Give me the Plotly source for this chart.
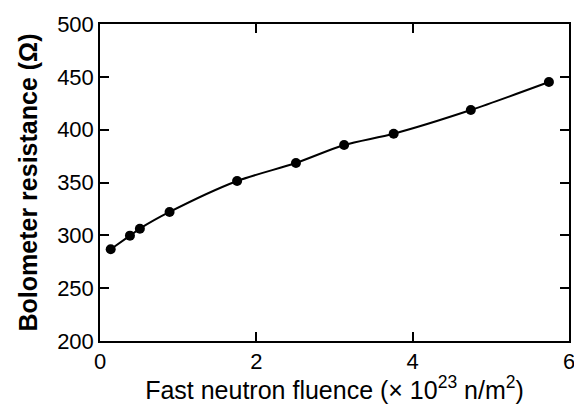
import plotly.graph_objects as go

fluence = [0.137, 0.383, 0.51, 0.89, 1.754, 2.507, 3.123, 3.757, 4.744, 5.743]
resistance = [286.8, 299.7, 306.3, 322.1, 351.4, 368.5, 385.5, 396.2, 418.6, 445.1]

x_ticks = [0, 2, 4, 6]
y_ticks = [200, 250, 300, 350, 400, 450, 500]

fig = go.Figure()
fig.add_trace(go.Scatter(
    x=fluence, y=resistance, mode="lines+markers",
    line=dict(color="black", width=2, shape="spline", smoothing=0.8),
    marker=dict(color="black", size=10),
    showlegend=False,
))

fam = "Liberation Sans, Arial, sans-serif"
tick_font = dict(family=fam, size=22, color="black")
axis_common = dict(
    showgrid=False, zeroline=False, showline=True, linecolor="black", linewidth=1.5,
    mirror="ticks", ticks="inside", ticklen=9, tickwidth=1.5, tickcolor="black",
    tickfont=tick_font, automargin=False,
)
fig.update_layout(
    width=574, height=396,
    margin=dict(l=92, r=13, t=16, b=63),
    paper_bgcolor="white", plot_bgcolor="white",
    font=dict(family=fam, color="black"),
    xaxis=dict(range=[0, 6], tickvals=x_ticks, ticktext=[str(v) for v in x_ticks],
               title=dict(text="Fast neutron fluence (× 10<sup>23</sup> n/m<sup>2</sup>)",
                          font=dict(family=fam, size=25, color="black"), standoff=2),
               **axis_common),
    yaxis=dict(range=[200, 500], tickvals=y_ticks, ticktext=[str(v) for v in y_ticks],
               title=dict(text="<b>Bolometer resistance (Ω)</b>",
                          font=dict(family=fam, size=25, color="black"), standoff=12),
               **axis_common),
)
fig.write_html("out.html")
